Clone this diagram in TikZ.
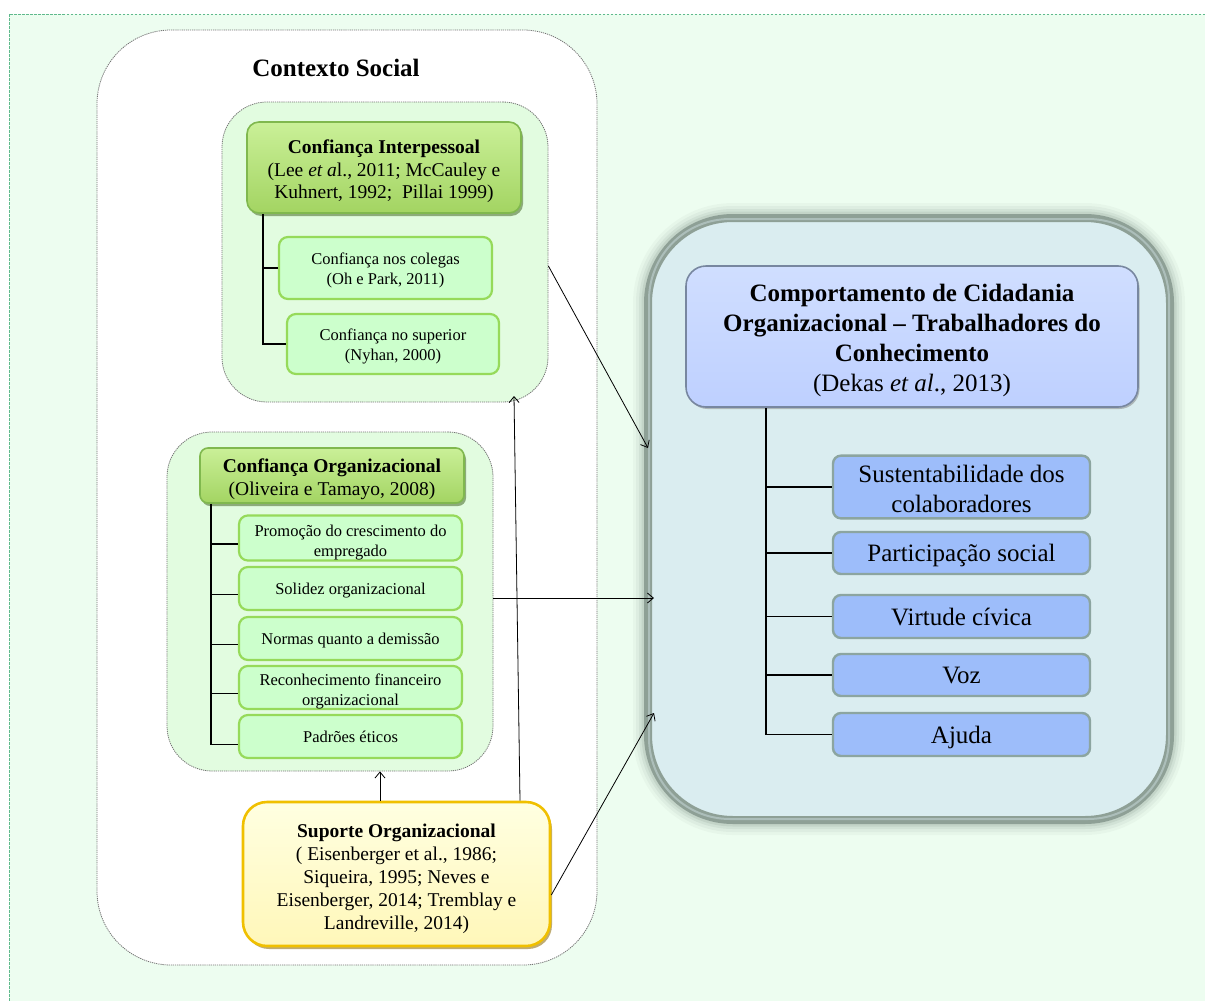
\documentclass[tikz,border=0pt]{standalone}
\usepackage{fontspec}
\setmainfont{Liberation Serif}
\usetikzlibrary{arrows.meta,shadows,fit}

% invisible strut that sets the height of a first text line
\newcommand\fstrut[1]{\rule{0pt}{#1}}

\definecolor{pagebg}{RGB}{237,253,240}
\definecolor{framegreen}{RGB}{95,185,140}
\definecolor{ctxline}{RGB}{115,115,115}
\definecolor{grpfill}{RGB}{226,252,224}
\definecolor{leaffill}{RGB}{204,255,204}
\definecolor{leafline}{RGB}{150,218,90}
\definecolor{hdrtop}{RGB}{202,240,152}
\definecolor{hdrbot}{RGB}{163,212,98}
\definecolor{hdrline}{RGB}{128,184,78}
\definecolor{hdrshadow}{RGB}{70,105,40}
\definecolor{bigfill}{RGB}{218,237,240}
\definecolor{bigline}{RGB}{142,160,150}
\definecolor{biginner}{RGB}{172,190,186}
\definecolor{glowgray}{RGB}{110,130,120}
\definecolor{bluetop}{RGB}{208,222,255}
\definecolor{bluebot}{RGB}{190,208,255}
\definecolor{blueline}{RGB}{120,135,160}
\definecolor{rleaf}{RGB}{157,189,250}
\definecolor{rleafline}{RGB}{140,165,160}
\definecolor{suptop}{RGB}{255,255,225}
\definecolor{supbot}{RGB}{255,247,185}
\definecolor{supline}{RGB}{240,192,0}
\definecolor{supshadow}{RGB}{150,118,20}

\begin{document}
\begin{tikzpicture}[x=1pt,y=-1pt,
  % full ascender for one-line texts and a fixed descender below the last line
  wp/.style={inner ysep=0pt, execute at begin node={\rule{0pt}{.9em}}, execute at end node={\rule[-.22em]{0pt}{.22em}}},
  ctx/.style={rounded corners=74, fill=white, draw=ctxline, dash pattern=on 1.2pt off 0.9pt, line width=0.8},
  grp/.style={rounded corners=45, fill=grpfill, draw=ctxline, dash pattern=on 1.2pt off 0.9pt, line width=0.8},
  hdrg/.style={wp, rounded corners=12, top color=hdrtop, bottom color=hdrbot, draw=hdrline, line width=1.6,
    drop shadow={shadow xshift=2pt, shadow yshift=-3pt, fill=hdrshadow, opacity=0.55},
    align=center, font=\fontsize{19.5}{22.5}\selectfont},
  leaf/.style={wp, rounded corners=9, fill=leaffill, draw=leafline, line width=2.2,
    align=center, font=\fontsize{16.5}{20}\selectfont},
  bhdr/.style={wp, rounded corners=20, top color=bluetop, bottom color=bluebot, draw=blueline, line width=1.6,
    drop shadow={shadow xshift=1.5pt, shadow yshift=-2pt, fill=gray, opacity=0.5},
    align=center, font=\fontsize{25}{30}\selectfont},
  rleafbox/.style={wp, rounded corners=8, fill=rleaf, draw=rleafline, line width=2.4,
    align=center, font=\fontsize{25}{30}\selectfont},
  supbox/.style={wp, rounded corners=24, top color=suptop, bottom color=supbot, draw=supline, line width=2.6,
    drop shadow={shadow xshift=2pt, shadow yshift=-3pt, fill=supshadow, opacity=0.6},
    align=center, font=\fontsize{19.5}{22.8}\selectfont},
  tree/.style={line width=1.5, draw=black},
  arr/.style={-{Straight Barb[length=6pt,width=10pt]}, line width=0.8}
]
\useasboundingbox (0,0) rectangle (1205,1001);

% page frame
\fill[pagebg] (9,14) rectangle (1205,1001);
\draw[framegreen, line width=1, dash pattern=on 2.5pt off 1.5pt] (1205,14) -- (9,14) -- (9,1001);

% social context container
\node[ctx, minimum width=500, minimum height=935] (ctx) at (347,497.5) {};
\node[font=\bfseries\fontsize{25}{30}\selectfont] (ctxtitle) at (336,67.5) {Contexto Social};

% interpersonal trust group
\node[grp, minimum width=326, minimum height=300] (ipg) at (385,252) {};
\node[hdrg, minimum width=274, minimum height=91] (iph) at (384,167.5)
  {\fstrut{1.1em}\textbf{Confiança Interpessoal}\\(Lee \textit{et a}l., 2011; McCauley e\\Kuhnert, 1992;\ \ Pillai 1999)};
\node[leaf, minimum width=213, minimum height=62] (c1) at (385.5,268)
  {\fstrut{1.05em}Confiança nos colegas\\(Oh e Park, 2011)};
\node[leaf, minimum width=212, minimum height=60] (c2) at (393,344)
  {\fstrut{1.05em}Confiança no superior\\(Nyhan, 2000)};
\coordinate (ipt) at (263,0);
\draw[tree] (iph.south -| ipt) -- (c2.west -| ipt) -- (c2.west);
\draw[tree] (c1.west -| ipt) -- (c1.west);

% organizational trust group
\node[grp, minimum width=326, minimum height=339] (ogg) at (330,601.5) {};
\node[hdrg, rounded corners=8, minimum width=264, minimum height=55] (ogh) at (332,475.5)
  {\fstrut{1.1em}\textbf{Confiança Organizacional}\\(Oliveira e Tamayo, 2008)};
\node[leaf, minimum width=223, minimum height=44] (o1) at (350.5,538)
  {\fstrut{1.3em}Promoção do crescimento do\\empregado};
\node[leaf, minimum width=223, minimum height=43] (o2) at (350.5,588.5) {Solidez organizacional};
\node[leaf, minimum width=223, minimum height=43] (o3) at (350.5,638.5) {Normas quanto a demissão};
\node[leaf, minimum width=223, minimum height=43] (o4) at (350.5,687.5)
  {\fstrut{1.18em}Reconhecimento financeiro\\organizacional};
\node[leaf, minimum width=223, minimum height=43] (o5) at (350.5,736.5) {Padrões éticos};
\coordinate (ogt) at (211,0);
\draw[tree] (ogh.south -| ogt) -- ([yshift=-8pt]o5.west -| ogt) -- ([yshift=-8pt]o5.west);
\foreach \n in {o1,o2,o3,o4}
  \draw[tree] ([yshift=-6pt]\n.west -| ogt) -- ([yshift=-6pt]\n.west);

% organizational support
\node[supbox, minimum width=307, minimum height=144] (sup) at (396.5,874)
  {\fstrut{1.2em}\textbf{Suporte Organizacional}\\( Eisenberger et al., 1986;\\Siqueira, 1995; Neves e\\Eisenberger, 2014; Tremblay e\\Landreville, 2014)};

% citizenship behaviour panel with soft surrounding shadow
\coordinate (bigNW) at (648,218);
\coordinate (bigSE) at (1170,820);
\foreach \w/\o in {30/0.05,24/0.07,18/0.1,13/0.14}
  \draw[line width=\w pt, draw=glowgray, opacity=\o, rounded corners=85] (bigNW) rectangle (bigSE);
\node[fit=(bigNW)(bigSE), inner sep=0pt, rounded corners=85, fill=bigfill, draw=bigline, line width=8] (big) {};
\draw[biginner, line width=2, rounded corners=81] ([shift={(5pt,-5pt)}]big.north west) rectangle ([shift={(-5pt,5pt)}]big.south east);

\node[bhdr, minimum width=452, minimum height=141] (bh) at (912,336.5)
  {\fstrut{1.01em}\textbf{Comportamento de Cidadania}\\\textbf{Organizacional – Trabalhadores do}\\\textbf{Conhecimento}\\(Dekas \textit{et al}., 2013)};
\node[rleafbox, minimum width=257, minimum height=62] (r1) at (961.5,487) {\fstrut{1.09em}Sustentabilidade dos\\colaboradores};
\node[rleafbox, minimum width=257, minimum height=42] (r2) at (961.5,553) {Participação social};
\node[rleafbox, minimum width=257, minimum height=43] (r3) at (961.5,616.5) {Virtude cívica};
\node[rleafbox, minimum width=257, minimum height=42] (r4) at (961.5,675) {Voz};
\node[rleafbox, minimum width=257, minimum height=43] (r5) at (961.5,734.5) {Ajuda};
\coordinate (rt) at (766,0);
\draw[tree] (bh.south -| rt) -- (r5.west -| rt) -- (r5.west);
\foreach \n in {r1,r2,r3,r4}
  \draw[tree, line width=1.1] (\n.west -| rt) -- (\n.west);

% influence arrows
\coordinate (ipgin) at (514,396);
\coordinate (oga) at (0,598);
\draw[arr] ([xshift=-16.5pt]sup.north) -- ([xshift=-16.5pt]sup.north |- ogg.south);
\draw[arr] ([xshift=123.5pt]sup.north) -- (ipgin);
\draw[arr] ([yshift=-14pt]ipg.east) -- ([xshift=4pt,yshift=71pt]big.west);
\draw[arr] (ogg.east |- oga) -- ([xshift=10pt]big.west |- oga);
\draw[arr] ([yshift=-21pt]sup.east) -- ([xshift=10pt,yshift=-194pt]big.west);
\end{tikzpicture}
\end{document}
